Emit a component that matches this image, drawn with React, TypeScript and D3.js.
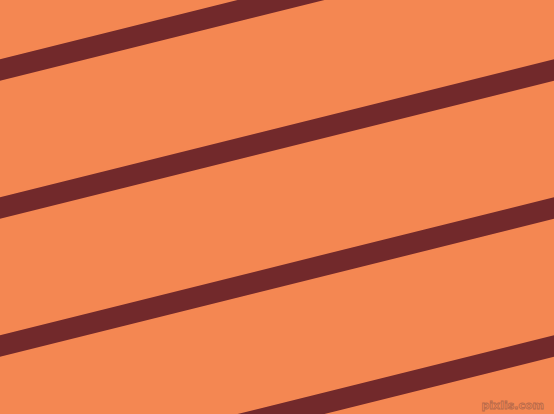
import React from "react";
import * as d3 from "d3";

const W = 554;
const H = 414;
const background = "#F48752";
const stripeColor = "#72292B";
// stripe centre-line intercepts at the left edge and at the right edge
const leftIntercepts = [70, 208, 346, 484];
const rightIntercepts = [-68, 70, 208, 346];
const stripeWidth = 21;
const watermark = "pixlis.com";

export default function App() {
  const x = d3.scaleLinear().domain([0, 1]).range([0, W]);
  const line = d3
    .line<[number, number]>()
    .x((d) => x(d[0]))
    .y((d) => d[1]);
  return (
    <svg
      width={W}
      height={H}
      style={{ position: "absolute", left: 0, top: 0, display: "block" }}
    >
      <rect width={W} height={H} fill={background} />
      {leftIntercepts.map((l, i) => {
        const r = rightIntercepts[i];
        const ext: [number, number][] = [
          [-0.1, l + (l - r) * 0.1],
          [1.1, r - (l - r) * 0.1],
        ];
        return (
          <path
            key={i}
            d={line(ext) || ""}
            stroke={stripeColor}
            strokeWidth={stripeWidth}
            fill="none"
          />
        );
      })}
      <text
        x={544}
        y={409}
        textAnchor="end"
        fontFamily="DejaVu Sans, sans-serif"
        fontSize={11}
        fontWeight="bold"
        fill={background}
        stroke="#B86A4A"
        strokeWidth={0.8}
      >
        {watermark}
      </text>
    </svg>
  );
}
